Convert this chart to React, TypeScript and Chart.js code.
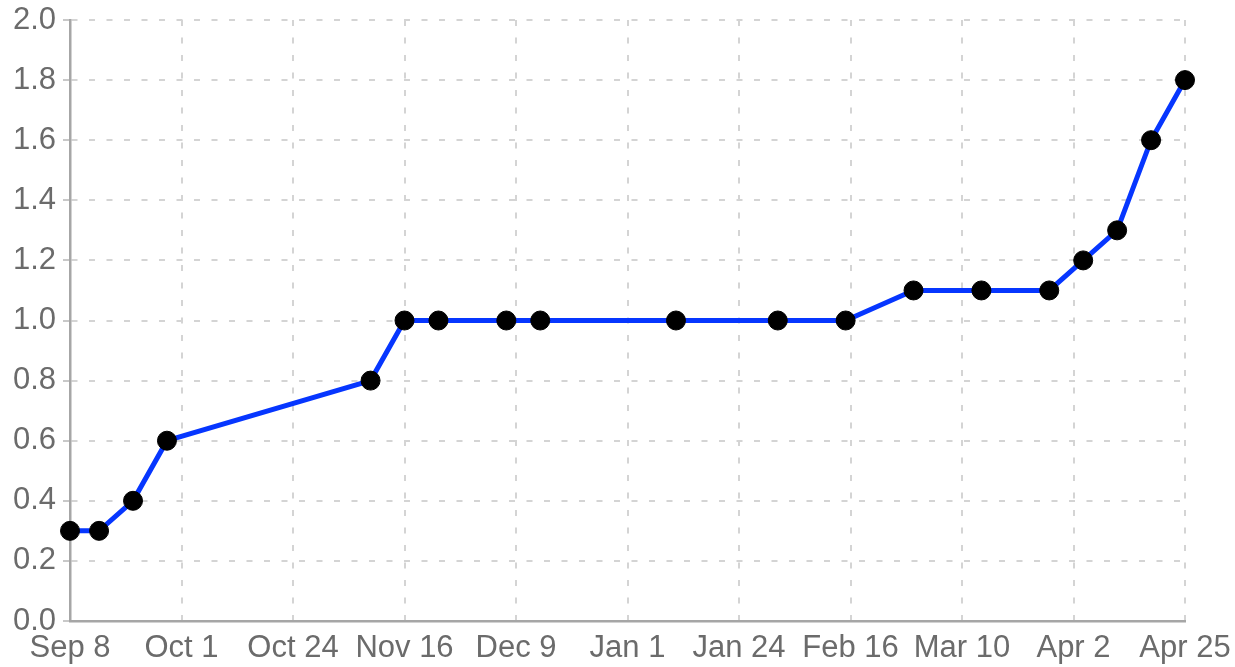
import React, { useEffect, useRef } from "react";
import { Chart, registerables } from "chart.js";

Chart.register(...registerables);

// Observation dates and values
const dates: string[] = [
  "2019-09-08", "2019-09-14", "2019-09-21", "2019-09-28",
  "2019-11-09", "2019-11-16", "2019-11-23", "2019-12-07", "2019-12-14",
  "2020-01-11", "2020-02-01", "2020-02-15", "2020-02-29", "2020-03-14",
  "2020-03-28", "2020-04-04", "2020-04-11", "2020-04-18", "2020-04-25",
];
const values: number[] = [
  0.3, 0.3, 0.4, 0.6,
  0.8, 1.0, 1.0, 1.0, 1.0,
  1.0, 1.0, 1.0, 1.1, 1.1,
  1.1, 1.2, 1.3, 1.6, 1.8,
];

const startDate = "2019-09-08";
const endDate = "2020-04-25";
const xTickStepDays = 23;
const yMin = 0;
const yMax = 2.0;
const yStep = 0.2;
const monthNames = ["Jan", "Feb", "Mar", "Apr", "May", "Jun", "Jul", "Aug", "Sep", "Oct", "Nov", "Dec"];

const DAY = 86400000;
const toUTC = (s: string) => {
  const [y, m, d] = s.split("-").map(Number);
  return Date.UTC(y, m - 1, d);
};
const startMs = toUTC(startDate);
const dayOffset = (s: string) => Math.round((toUTC(s) - startMs) / DAY);
const fmtDay = (v: number) => {
  const d = new Date(startMs + Math.round(v) * DAY);
  return `${monthNames[d.getUTCMonth()]} ${d.getUTCDate()}`;
};

export default function App() {
  const ref = useRef<HTMLCanvasElement | null>(null);

  useEffect(() => {
    if (!ref.current) return;
    const points = dates.map((d, i) => ({ x: dayOffset(d), y: values[i] }));
    const font = { family: "'Liberation Sans', Arial, sans-serif", size: 31 };
    const chart = new Chart(ref.current, {
      type: "line",
      data: {
        datasets: [
          {
            data: points,
            borderColor: "#0636ff",
            borderWidth: 5,
            pointRadius: 9.5,
            pointHoverRadius: 9.5,
            pointBackgroundColor: "#000000",
            pointBorderColor: "#000000",
            pointBorderWidth: 1,
            tension: 0,
            clip: false as any,
          },
        ],
      },
      options: {
        animation: false,
        responsive: true,
        maintainAspectRatio: false,
        layout: { padding: { top: 20, right: 50, left: 0, bottom: 0 } },
        plugins: { legend: { display: false }, tooltip: { enabled: false } },
        scales: {
          x: {
            type: "linear",
            min: 0,
            max: dayOffset(endDate),
            afterFit: (s: any) => { s.height = 46; s.paddingLeft = 0; s.paddingRight = 0; },
            ticks: {
              stepSize: xTickStepDays,
              color: "#6b6b6b",
              font,
              padding: 9,
              maxRotation: 0,
              autoSkip: false,
              callback: (v: any) => fmtDay(Number(v)),
            },
            grid: { color: "#d4d4d4", lineWidth: 2, drawTicks: false },
            border: { display: true, color: "#a6a6a6", width: 2.5, dash: [6, 11.5] },
          },
          y: {
            min: yMin,
            max: yMax,
            afterFit: (s: any) => { s.width = 70; s.paddingTop = 0; s.paddingBottom = 0; },
            ticks: {
              stepSize: yStep,
              color: "#6b6b6b",
              font,
              padding: 7,
              callback: (v: any) => Number(v).toFixed(1),
            },
            grid: { color: "#d4d4d4", lineWidth: 2, drawTicks: true, tickLength: 7, tickColor: "#c8c8c8" },
            border: { display: true, color: "#a6a6a6", width: 2.5, dash: [6, 11.5] },
          },
        },
      },
    });
    return () => chart.destroy();
  }, []);

  return (
    <div style={{ position: "absolute", left: 0, top: 0, width: 1235, height: 667, background: "#fff" }}>
      <canvas ref={ref} />
    </div>
  );
}
